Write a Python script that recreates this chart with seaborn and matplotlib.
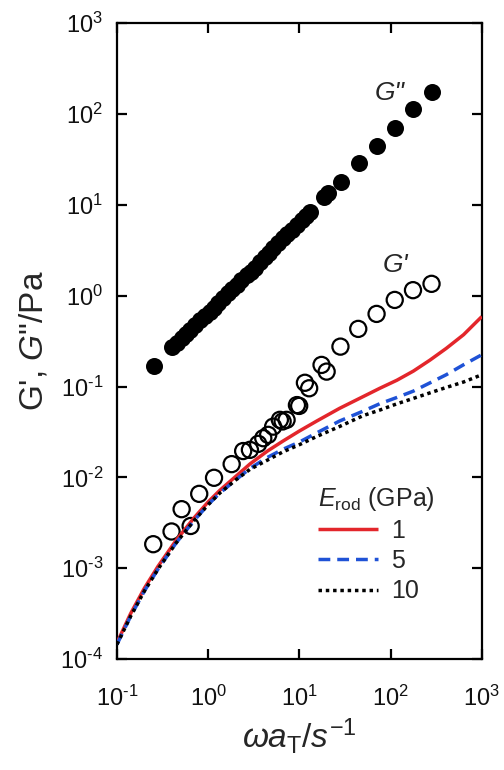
import matplotlib
matplotlib.use("Agg")
import matplotlib.pyplot as plt
import matplotlib.ticker as mticker
import numpy as np
import pandas as pd
import seaborn as sns

# G'' (filled circles)
g2_freq = [0.254, 0.397, 0.452, 0.512, 0.569, 0.631, 0.716, 0.813, 0.923, 1.045, 1.161,
           1.288, 1.462, 1.660, 1.841, 2.051, 2.317, 2.636, 2.917, 3.251, 3.673, 4.188,
           4.624, 5.164, 5.821, 6.653, 7.328, 8.204, 9.333, 10.57, 11.75, 13.03, 18.62,
           20.70, 28.25, 44.87, 70.15, 111.4, 176.6, 281.2]
g2_val = [0.170, 0.270, 0.302, 0.340, 0.380, 0.420, 0.479, 0.541, 0.603, 0.667, 0.741,
          0.824, 0.933, 1.062, 1.175, 1.312, 1.479, 1.690, 1.828, 2.000, 2.344, 2.685,
          2.985, 3.319, 3.758, 4.276, 4.732, 5.284, 6.026, 6.808, 7.586, 8.395, 12.16,
          13.40, 17.95, 28.64, 44.67, 70.47, 112.5, 175.4]

# G' (open circles)
g1_freq = [0.250, 0.397, 0.512, 0.643, 0.798, 1.16, 1.81, 2.42, 2.87, 3.54, 4.02, 4.55,
           5.16, 6.11, 6.55, 7.24, 9.95, 9.4, 11.5, 12.8, 17.5, 19.9, 28.2, 44.2, 70.2,
           111, 176, 281]
g1_val = [0.00184, 0.00254, 0.00447, 0.00292, 0.00659, 0.0099, 0.0140, 0.0195, 0.0201,
          0.0234, 0.0270, 0.0294, 0.0362, 0.0430, 0.0413, 0.0430, 0.0612, 0.0625, 0.110,
          0.0957, 0.173, 0.146, 0.275, 0.431, 0.630, 0.898, 1.15, 1.35]

# model curves, E_rod = 1, 5, 10 GPa
line_freq = [0.1, 0.141, 0.2, 0.282, 0.447, 0.708, 1.0, 1.349, 1.995, 2.884, 4.467,
             6.607, 10.0, 15.49, 27.54, 50.12, 75.86, 117.5, 177.8, 269.2, 407.4, 631.0,
             1000]
red_val = [1.51e-4, 3.16e-4, 6.03e-4, 1.05e-3, 2.04e-3, 3.63e-3, 5.37e-3, 7.24e-3,
           0.0102, 0.0141, 0.0195, 0.0251, 0.0324, 0.0417, 0.0575, 0.0776, 0.0955,
           0.1175, 0.148, 0.195, 0.263, 0.372, 0.589]
blue_val = [1.45e-4, 2.95e-4, 5.62e-4, 9.77e-4, 1.91e-3, 3.39e-3, 5.01e-3, 6.76e-3,
            9.33e-3, 0.0126, 0.0166, 0.0204, 0.0245, 0.0309, 0.0417, 0.0537, 0.0646,
            0.0759, 0.0891, 0.1096, 0.1349, 0.1738, 0.2239]
black_val = [1.45e-4, 2.95e-4, 5.62e-4, 9.77e-4, 1.91e-3, 3.39e-3, 5.01e-3, 6.76e-3,
             9.33e-3, 0.0123, 0.0155, 0.0191, 0.0229, 0.0282, 0.0363, 0.0479, 0.0550,
             0.0646, 0.0741, 0.0851, 0.0977, 0.1122, 0.1349]
e_rod = ['1', '5', '10']

sns.set_theme(style='ticks')
plt.rcParams['font.family'] = ['Liberation Sans', 'DejaVu Sans']
plt.rcParams['mathtext.fontset'] = 'custom'
plt.rcParams['mathtext.rm'] = 'Liberation Sans'
plt.rcParams['mathtext.it'] = 'Liberation Sans:italic'
plt.rcParams['mathtext.default'] = 'regular'


def decade_label(v, pos):
    # short hyphen for negative exponents, as in the original figure
    e = int(round(np.log10(v)))
    if e < 0:
        return r'$10^{\text{-}%d}$' % abs(e)
    return r'$10^{%d}$' % e


fig = plt.figure(figsize=(5.04, 7.7), dpi=100)
ax = fig.add_axes([0.232, 0.144, 0.724, 0.826])

lines = pd.DataFrame({
    'freq': line_freq * 3,
    'val': red_val + blue_val + black_val,
    'E': [e for e in e_rod for _ in line_freq],
})
sns.lineplot(data=lines, x='freq', y='val', hue='E', style='E',
             palette=['#e3262b', '#1f52d6', 'black'],
             dashes=[(1, 0), (3.4, 2.0), (1.0, 1.1)],
             linewidth=2.5, ax=ax, sort=False, estimator=None, zorder=4)

sns.scatterplot(x=g2_freq, y=g2_val, s=150, color='black', edgecolor='black',
                linewidth=0, ax=ax, legend=False, zorder=3)
sns.scatterplot(x=g1_freq, y=g1_val, s=135, facecolor='none', edgecolor='black',
                linewidth=1.6, ax=ax, legend=False, zorder=3)

ax.set_xscale('log')
ax.set_yscale('log')
ax.set_xlim(0.1, 1000)
ax.set_ylim(1e-4, 1e3)
ax.minorticks_off()
ax.xaxis.set_major_formatter(mticker.FuncFormatter(decade_label))
ax.yaxis.set_major_formatter(mticker.FuncFormatter(decade_label))
ax.tick_params(which='major', direction='in', top=True, right=True, length=7,
               width=1.6, labelsize=17, color='black', labelcolor='#111111')
ax.tick_params(axis='x', pad=19)
ax.tick_params(axis='y', pad=10)
for sp in ax.spines.values():
    sp.set_linewidth(1.6)
    sp.set_color('black')

ax.set_xlabel(r'$\mathit{\omega a}_{\mathrm{T}}\mathit{/s}^{-1}$', fontsize=24, labelpad=4)
ax.set_ylabel('G\', $\\mathit{G}$"/Pa', fontsize=24, labelpad=8)

ax.text(98, 170, 'G"', fontsize=19, style='italic', ha='center', va='center')
ax.text(114, 2.2, "G'", fontsize=19, style='italic', ha='center', va='center')

leg = ax.legend(title=r'$\mathit{E}_{\mathrm{rod}}$ (GPa)', loc='upper left',
                bbox_to_anchor=(0.525, 0.29), frameon=False, fontsize=18,
                title_fontsize=18, handlelength=2.4, handletextpad=0.5,
                labelspacing=0.25, borderaxespad=0)
leg._legend_box.align = 'left'
for h in leg.get_lines():
    h.set_linewidth(2.5)

fig.savefig('out.png', dpi=100)
